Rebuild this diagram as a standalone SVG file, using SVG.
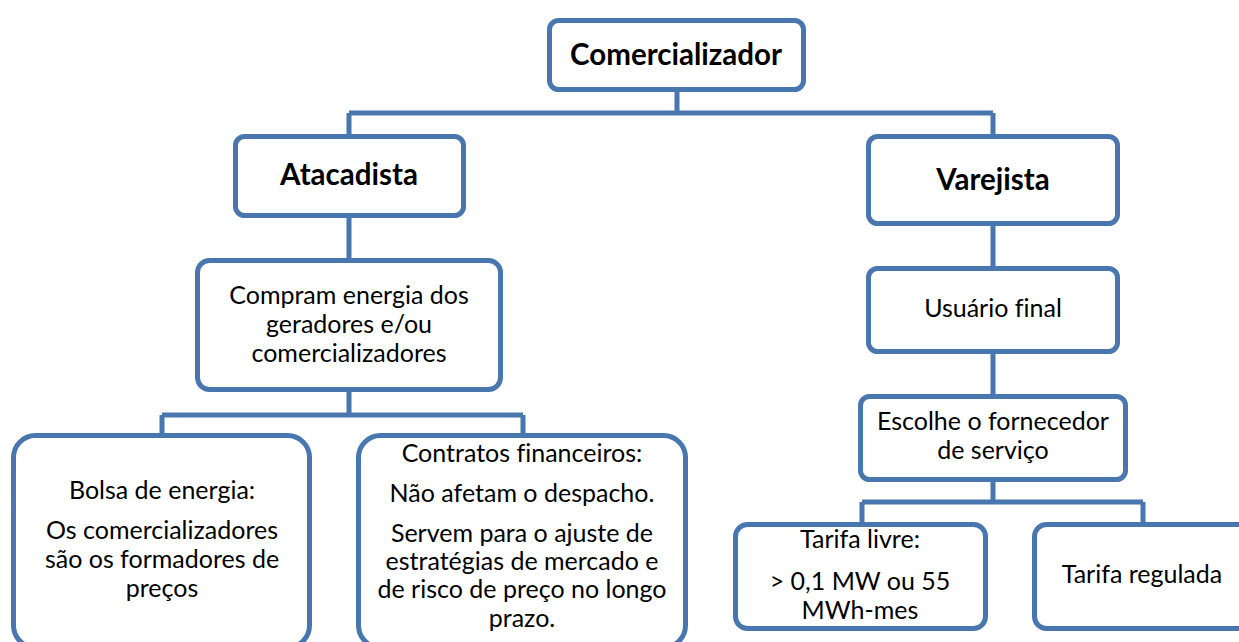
<svg xmlns="http://www.w3.org/2000/svg" width="1239" height="642" viewBox="0 0 1239 642">
<style>
.box{fill:#fff;stroke:#4876AE;stroke-width:5}
.ln{fill:none;stroke:#4876AE;stroke-width:5}
text{font-family:Lato,"Liberation Sans",sans-serif;font-size:25px;fill:#000;text-anchor:middle;font-variant-ligatures:none}
.b{font-weight:bold;font-size:29.5px}
</style>
<rect width="1239" height="642" fill="#fff"/>
<g id="connectors">
<path class="ln" d="M677 92V113M349 113H993M349 113V136M993 113V136"/>
<path class="ln" d="M349 218V260M349 392V415M162 415H523M162 415V435M523 415V435"/>
<path class="ln" d="M993 226V268M993 354V396M993 482V502M862 502H1143M862 502V524M1143 502V524"/>
</g>
<g id="comercializador">
<rect class="box" x="549.5" y="20.5" width="254" height="69" rx="9"/>
<text class="b" x="676" y="65">Comercializador</text>
</g>
<g id="atacadista">
<rect class="box" x="235.5" y="136.5" width="228" height="79" rx="9"/>
<text class="b" x="349" y="185">Atacadista</text>
</g>
<g id="compram">
<rect class="box" x="197.5" y="260.5" width="303" height="129" rx="12"/>
<text x="349" y="304">Compram energia dos</text>
<text x="349" y="333">geradores e/ou</text>
<text x="349" y="362">comercializadores</text>
</g>
<g id="bolsa">
<rect class="box" x="13.5" y="435.5" width="296" height="212" rx="22"/>
<text x="162" y="499">Bolsa de energia:</text>
<text x="162" y="539">Os comercializadores</text>
<text x="162" y="568">são os formadores de</text>
<text x="162" y="597">preços</text>
</g>
<g id="contratos">
<rect class="box" x="358.5" y="435.5" width="327" height="212" rx="22"/>
<text x="522" y="462">Contratos financeiros:</text>
<text x="522" y="502">Não afetam o despacho.</text>
<text x="522" y="542">Servem para o ajuste de</text>
<text x="522" y="570">estratégias de mercado e</text>
<text x="522" y="598">de risco de preço no longo</text>
<text x="522" y="627">prazo.</text>
</g>
<g id="varejista">
<rect class="box" x="868.5" y="136.5" width="249" height="87" rx="9"/>
<text class="b" x="993" y="190">Varejista</text>
</g>
<g id="usuario">
<rect class="box" x="868.5" y="268.5" width="249" height="83" rx="9"/>
<text x="993" y="317">Usuário final</text>
</g>
<g id="escolhe">
<rect class="box" x="860.5" y="396.5" width="265" height="83" rx="9"/>
<text x="993" y="430">Escolhe o fornecedor</text>
<text x="993" y="459">de serviço</text>
</g>
<g id="tarifa-livre">
<rect class="box" x="735.5" y="524.5" width="250" height="104" rx="12"/>
<text x="860" y="548">Tarifa livre:</text>
<text x="860" y="590">&gt; 0,1 MW ou 55</text>
<text x="860" y="619">MWh-mes</text>
</g>
<g id="tarifa-regulada">
<rect class="box" x="1034.5" y="524.5" width="220" height="104" rx="12"/>
<text x="1142" y="583">Tarifa regulada</text>
</g>
</svg>
